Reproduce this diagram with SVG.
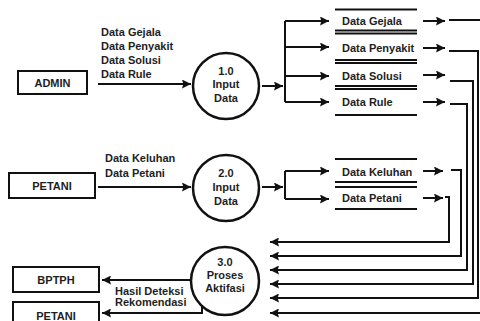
<svg xmlns="http://www.w3.org/2000/svg" width="480" height="321" viewBox="0 0 480 321">
<defs>
<marker id="ah" viewBox="0 0 10 10" refX="10" refY="5" markerWidth="9" markerHeight="9" markerUnits="userSpaceOnUse" orient="auto">
<path d="M0,0 L10,5 L0,10 L1.5,5 Z" fill="#111"/>
</marker>
</defs>
<style>
text{font-family:"Liberation Sans",Arial,sans-serif;font-weight:bold;font-size:11px;fill:#1e1e1e}
.c{text-anchor:middle}
.box{fill:#fff;stroke:#111;stroke-width:2}
.proc{fill:#fff;stroke:#111;stroke-width:2.5}
.st{stroke:#111;stroke-width:2;fill:none}
.ln{stroke:#111;stroke-width:2;fill:none}
.ar{stroke:#111;stroke-width:2;fill:none;marker-end:url(#ah)}
</style>
<rect width="480" height="321" fill="#fff"/>

<g id="connectors">
<path class="ar" d="M98,84 H191"/>
<path class="ar" d="M262,86 H283"/>
<path class="ln" d="M285,21 V102"/>
<path class="ar" d="M285,21 H329"/>
<path class="ar" d="M285,47 H329"/>
<path class="ar" d="M285,76 H329"/>
<path class="ar" d="M285,102 H329"/>
<path class="ar" d="M423,21 H445"/>
<path class="ar" d="M423,48 H445"/>
<path class="ar" d="M423,75 H445"/>
<path class="ar" d="M423,102 H445"/>
<path class="ar" d="M449,20 H486 V313 H270"/>
<path class="ar" d="M449,51 H478 V298 H270"/>
<path class="ar" d="M450,81 H473 V284 H270"/>
<path class="ar" d="M450,104 H467 V270 H270"/>
<path class="ar" d="M98,187 H191"/>
<path class="ar" d="M262,187 H283"/>
<path class="ln" d="M285,171 V199"/>
<path class="ar" d="M285,171 H329"/>
<path class="ar" d="M285,199 H329"/>
<path class="ar" d="M423,171 H443"/>
<path class="ar" d="M423,198 H443"/>
<path class="ar" d="M451,170 H461 V256 H270"/>
<path class="ar" d="M445,197 H449 V242 H270"/>
<path class="ar" d="M192,280 H102"/>
<path class="ar" d="M202,306 V313 H102"/>
<text x="101" y="36">Data Gejala</text>
<text x="101" y="49.5">Data Penyakit</text>
<text x="101" y="63.5">Data Solusi</text>
<text x="101" y="77.5">Data Rule</text>
<text x="105" y="162">Data Keluhan</text>
<text x="105" y="177">Data Petani</text>
<text x="115" y="295">Hasil Deteksi</text>
<text x="115" y="305.5">Rekomendasi</text>
</g>

<g id="admin">
<rect class="box" x="18" y="71" width="69" height="23"/>
<text class="c" x="52.5" y="86.5">ADMIN</text>
</g>
<g id="petani_in">
<rect class="box" x="9" y="173" width="86" height="25"/>
<text class="c" x="52" y="189.5">PETANI</text>
</g>
<g id="bptph">
<rect class="box" x="13" y="267" width="86" height="25"/>
<text class="c" x="56" y="283.5">BPTPH</text>
</g>
<g id="petani_out">
<rect class="box" x="13" y="302" width="86" height="26"/>
<text class="c" x="56" y="319.5">PETANI</text>
</g>

<g id="p1">
<circle class="proc" cx="226" cy="86" r="33"/>
<text class="c" x="226" y="75">1.0</text>
<text class="c" x="226" y="88">Input</text>
<text class="c" x="226" y="102">Data</text>
</g>
<g id="p2">
<circle class="proc" cx="226" cy="188" r="33"/>
<text class="c" x="226" y="177">2.0</text>
<text class="c" x="226" y="191">Input</text>
<text class="c" x="226" y="205">Data</text>
</g>
<g id="p3">
<circle class="proc" cx="225" cy="281" r="34"/>
<text class="c" x="225" y="266">3.0</text>
<text class="c" x="225" y="279">Proses</text>
<text class="c" x="225" y="292">Aktifasi</text>
</g>

<g id="ds_gejala">
<path class="st" d="M335,9.5 H417 M335,30.5 H417"/>
<text x="342" y="25">Data Gejala</text>
</g>
<g id="ds_penyakit">
<path class="st" d="M335,33.5 H417 M335,60 H417"/>
<text x="342" y="52">Data Penyakit</text>
</g>
<g id="ds_solusi">
<path class="st" d="M335,63 H417 M335,86 H417"/>
<text x="342" y="80">Data Solusi</text>
</g>
<g id="ds_rule">
<path class="st" d="M335,89 H417 M335,115 H417"/>
<text x="342" y="106">Data Rule</text>
</g>
<g id="ds_keluhan">
<path class="st" d="M335,159 H417 M335,182 H417"/>
<text x="342" y="176">Data Keluhan</text>
</g>
<g id="ds_petani">
<path class="st" d="M335,187 H417 M335,209 H417"/>
<text x="342" y="202">Data Petani</text>
</g>
</svg>
